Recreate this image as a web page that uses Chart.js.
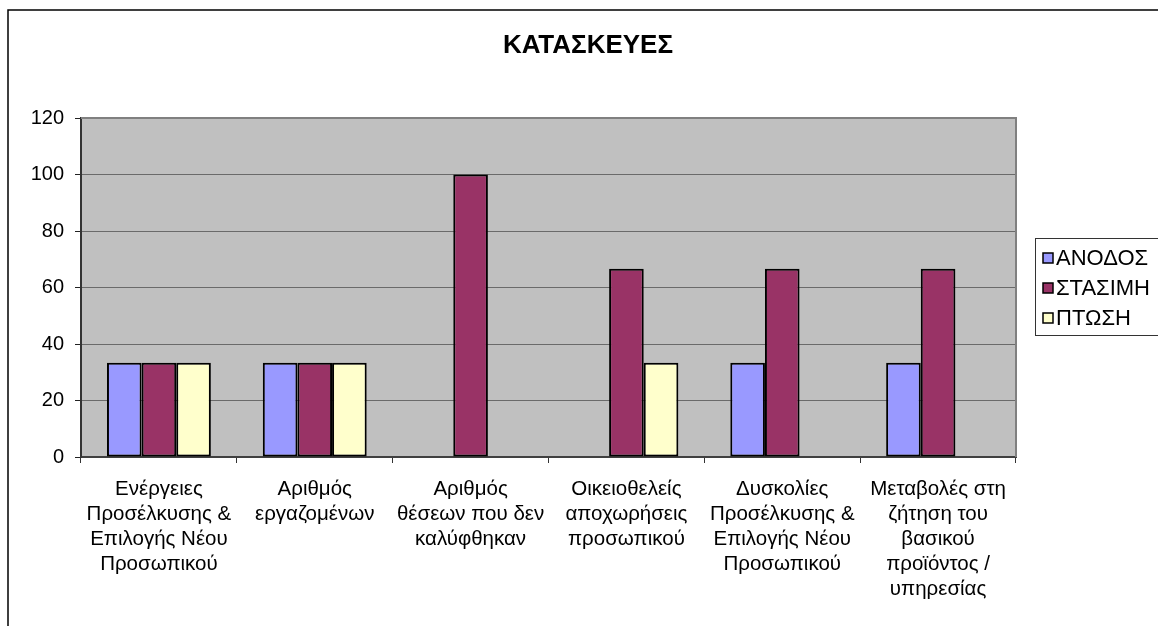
<!DOCTYPE html>
<html>
<head>
<meta charset="utf-8">
<script src="https://cdn.jsdelivr.net/npm/chart.js@4/dist/chart.umd.min.js"></script>
<style>
html, body { margin: 0; padding: 0; background: #fff; }
</style>
</head>
<body>
<canvas id="myChart" width="1158" height="626"></canvas>
<script>
const categories = [
    ['Ενέργειες', 'Προσέλκυσης &', 'Επιλογής Νέου', 'Προσωπικού'],
    ['Αριθμός', 'εργαζομένων'],
    ['Αριθμός', 'θέσεων που δεν', 'καλύφθηκαν'],
    ['Οικειοθελείς', 'αποχωρήσεις', 'προσωπικού'],
    ['Δυσκολίες', 'Προσέλκυσης &', 'Επιλογής Νέου', 'Προσωπικού'],
    ['Μεταβολές στη', 'ζήτηση του', 'βασικού', 'προϊόντος /', 'υπηρεσίας']
]
const anodos = [33.33, 33.33, 0, 0, 33.33, 33.33]
const stasimi = [33.33, 33.33, 100, 66.67, 66.67, 66.67]
const ptosi = [33.33, 33.33, 0, 33.33, 0, 0]
const seriesNames = ['ΑΝΟΔΟΣ', 'ΣΤΑΣΙΜΗ', 'ΠΤΩΣΗ']
const seriesColors = ['#9999FF', '#993366', '#FFFFCC']
const yMin = 0, yMax = 120, yStep = 20
const chartTitle = 'ΚΑΤΑΣΚΕΥΕΣ'

const FONT = "'Liberation Sans', Arial, sans-serif"
Chart.defaults.font.family = FONT
Chart.defaults.color = '#000'

// background, outer frame, plot fill
const backdrop = {
    id: 'backdrop',
    beforeDraw(chart) {
        const {ctx, chartArea: a} = chart
        ctx.save()
        ctx.fillStyle = '#fff'
        ctx.fillRect(0, 0, chart.width, chart.height)
        ctx.fillStyle = '#C0C0C0'
        ctx.fillRect(a.left, a.top, a.right - a.left, a.bottom - a.top)
        ctx.strokeStyle = '#000'
        ctx.lineWidth = 1.5
        ctx.beginPath()
        ctx.moveTo(8, chart.height + 2)
        ctx.lineTo(8, 10)
        ctx.lineTo(chart.width + 2, 10)
        ctx.stroke()
        ctx.restore()
    },
    afterDraw(chart) {
        const {ctx, chartArea: a} = chart
        ctx.save()
        // plot border top/right
        ctx.strokeStyle = '#808080'
        ctx.lineWidth = 2
        ctx.beginPath()
        ctx.moveTo(a.left, a.top)
        ctx.lineTo(a.right, a.top)
        ctx.lineTo(a.right, a.bottom)
        ctx.stroke()

        // title
        ctx.fillStyle = '#000'
        ctx.font = 'bold 26px ' + FONT
        ctx.textAlign = 'center'
        ctx.textBaseline = 'middle'
        ctx.fillText(chartTitle, 588, 46)

        // legend
        ctx.strokeStyle = '#333'
        ctx.lineWidth = 1
        ctx.strokeRect(1035.5, 238.5, 140, 97)
        ctx.font = '22px ' + FONT
        ctx.textAlign = 'left'
        chart.data.datasets.forEach((ds, i) => {
            const cy = 258 + i * 30
            ctx.fillStyle = ds.backgroundColor
            ctx.fillRect(1043, cy - 5, 10, 10)
            ctx.lineWidth = 1.5
            ctx.strokeStyle = '#000'
            ctx.strokeRect(1043, cy - 5, 10, 10)
            ctx.fillStyle = '#000'
            ctx.fillText(ds.label, 1056, cy + 1)
        })
        ctx.restore()
    }
}

const datasets = [anodos, stasimi, ptosi].map((vals, i) => ({
    label: seriesNames[i],
    data: vals,
    backgroundColor: seriesColors[i],
    borderColor: '#000',
    borderWidth: 2,
    borderSkipped: false,
    categoryPercentage: 3 / 4.5,
    barPercentage: 1
}))

const ctx = document.getElementById('myChart').getContext('2d')
const chart = new Chart(ctx, {
    type: 'bar',
    data: {labels: categories, datasets},
    options: {
        responsive: false,
        animation: false,
        devicePixelRatio: 1,
        layout: {padding: {left: 0, top: 118, right: 142, bottom: 0}},
        plugins: {legend: {display: false}, title: {display: false}, tooltip: {enabled: false}},
        scales: {
            x: {
                grid: {drawOnChartArea: false, drawTicks: true, tickLength: 6, color: '#333', offset: true},
                border: {color: '#404040', width: 2},
                ticks: {font: {size: 20.5, lineHeight: 1.22}, color: '#000', padding: 14, maxRotation: 0, autoSkip: false},
                afterFit: s => { s.height = 169 }
            },
            y: {
                min: yMin,
                max: yMax,
                grid: {color: '#6a6a6a', lineWidth: 1, tickLength: 6, tickColor: '#222'},
                border: {color: '#333', width: 2},
                ticks: {stepSize: yStep, font: {size: 20}, color: '#000', padding: 11},
                afterFit: s => { s.width = 81 }
            }
        }
    },
    plugins: [backdrop]
})
</script>
</body>
</html>
